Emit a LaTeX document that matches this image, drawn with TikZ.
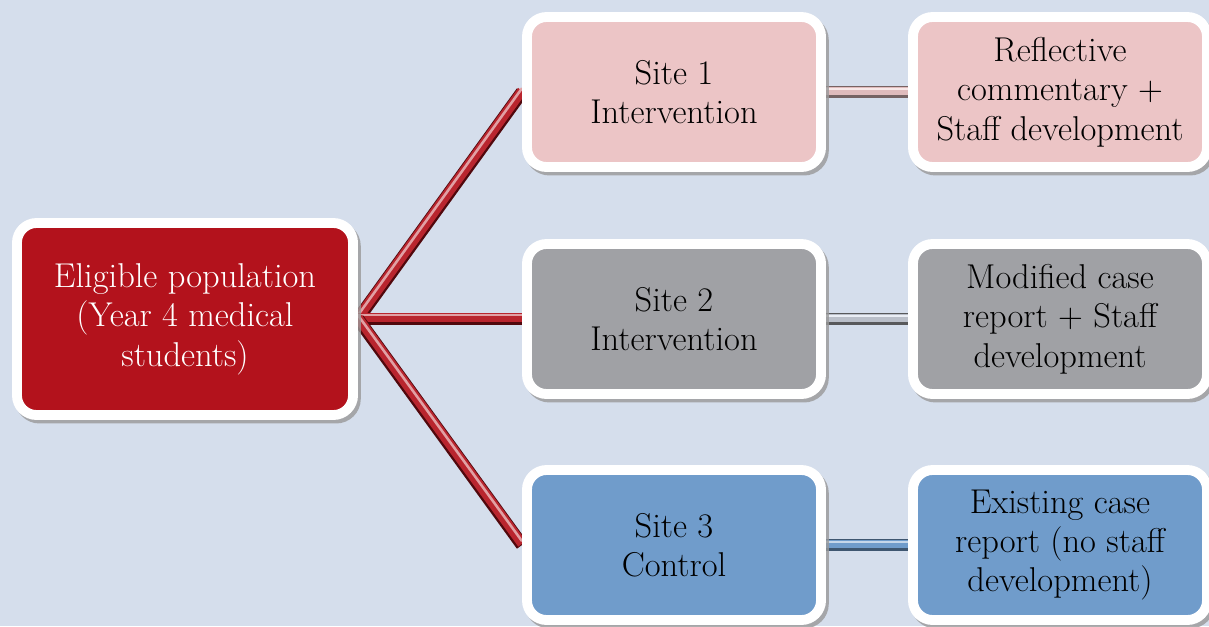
\documentclass[tikz,border=0pt]{standalone}
\usetikzlibrary{shadows}

\definecolor{bgblue}{HTML}{D5DEEC}
\definecolor{popred}{HTML}{B3121C}
\definecolor{sitepink}{HTML}{ECC5C6}
\definecolor{sitegrey}{HTML}{A0A1A5}
\definecolor{siteblue}{HTML}{709CCB}

\pgfdeclarelayer{bg}
\pgfdeclarelayer{lines}
\pgfsetlayers{bg,lines,main}

\tikzset{
  box/.style={draw=white, line width=7pt, rounded corners=14pt, align=center,
    font=\fontsize{24.5}{28}\selectfont,
    drop shadow={shadow xshift=2pt, shadow yshift=-2.5pt, fill=black!40, draw=black!40, line width=7pt, opacity=0.8}},
  popbox/.style={box, fill=popred, text=white, minimum width=8.4cm, minimum height=4.8cm},
  sitebox/.style={box, minimum width=7.35cm, minimum height=3.75cm},
  tube/.style n args={4}{line width=#1, draw=#2,
    postaction={draw=#3, line width=0.75*#1, transform canvas={yshift=0.1*#1}},
    postaction={draw=#4, line width=0.2*#1, transform canvas={yshift=0.3*#1}}},
}

\begin{document}
\begin{tikzpicture}[x=0.025cm, y=-0.025cm]
  \useasboundingbox (0,0) rectangle (1209,626);
  \begin{pgfonlayer}{bg}
    \fill[bgblue] (0,0) rectangle (1209,626);
  \end{pgfonlayer}

  \node[popbox] (pop) at (185,319) {Eligible population\\(Year 4 medical\\students)};

  \node[sitebox, fill=sitepink] (site1) at (674,92) {Site 1\\Intervention};
  \node[sitebox, fill=sitegrey] (site2) at (674,319) {Site 2\\Intervention};
  \node[sitebox, fill=siteblue] (site3) at (674,545) {Site 3\\Control};

  \node[sitebox, fill=sitepink] (out1) at (1060,92) {Reflective\\commentary +\\Staff development};
  \node[sitebox, fill=sitegrey] (out2) at (1060,319) {Modified case\\report + Staff\\development};
  \node[sitebox, fill=siteblue] (out3) at (1060,545) {Existing case\\report (no staff\\development)};

  \begin{pgfonlayer}{lines}
    \draw[tube={9pt}{popred!45!black}{popred!92!white}{popred!40!white}] (pop.east) -- (site1.west);
    \draw[tube={9pt}{popred!45!black}{popred!92!white}{popred!40!white}] (pop.east) -- (site2.west);
    \draw[tube={9pt}{popred!45!black}{popred!92!white}{popred!40!white}] (pop.east) -- (site3.west);
    \draw[tube={8pt}{sitepink!50!black}{sitepink!95!black}{sitepink!40!white}] (site1.east) -- (out1.west);
    \draw[tube={8pt}{sitegrey!55!black}{sitegrey!50!bgblue}{bgblue!50!white}] (site2.east) -- (out2.west);
    \draw[tube={8pt}{siteblue!55!black}{siteblue}{siteblue!40!white}] (site3.east) -- (out3.west);
  \end{pgfonlayer}
\end{tikzpicture}
\end{document}
